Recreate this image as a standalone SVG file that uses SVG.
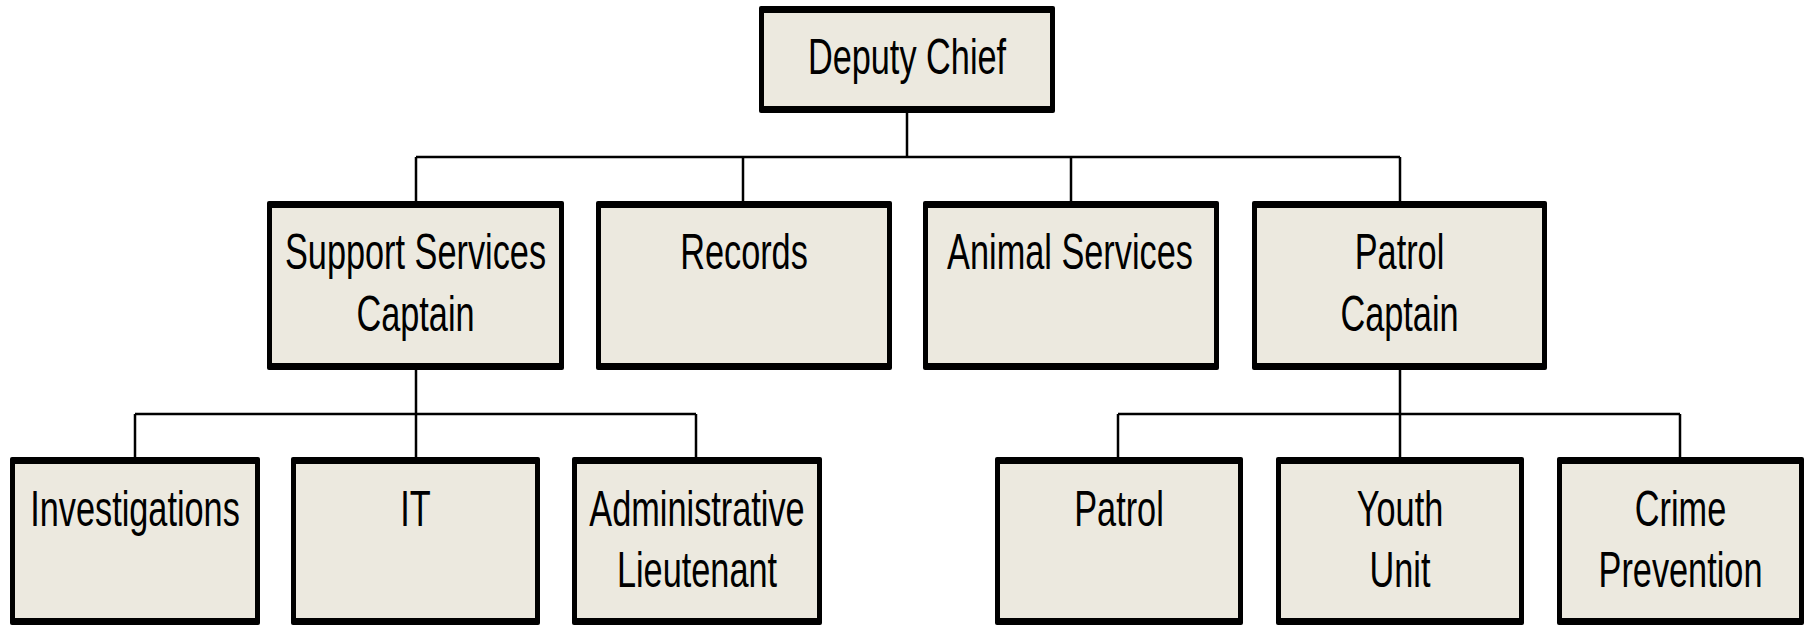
<svg xmlns="http://www.w3.org/2000/svg" width="1812" height="625" viewBox="0 0 1812 625">
<style>
.ob{fill:#000}
.ib{fill:#ECE9DF}
.t{font-family:"Liberation Sans",Arial,sans-serif;font-size:50px;fill:#000;text-anchor:middle}
.c{stroke:#000;stroke-width:2.5;fill:none}
</style>
<rect width="1812" height="625" fill="#fff"/>
<g id="connectors">
<path class="c" d="M907,113V157M416,157H1400M416,157V201M743,157V201M1071,157V201M1400,157V201"/>
<path class="c" d="M416,370V457M135,414H696M135,414V457M696,414V457"/>
<path class="c" d="M1400,370V457M1118,414H1680M1118,414V457M1680,414V457"/>
</g>
<g id="deputy-chief">
<rect class="ob" x="759" y="6" width="296" height="107" rx="2"/>
<rect class="ib" x="764" y="13" width="286" height="93"/>
<text class="t" transform="translate(907,74) scale(0.686,1)">Deputy Chief</text>
</g>
<g id="support-services-captain">
<rect class="ob" x="267" y="201" width="297" height="169" rx="2"/>
<rect class="ib" x="272" y="208" width="287" height="155"/>
<text class="t" transform="translate(415.5,269) scale(0.686,1)">Support Services</text>
<text class="t" transform="translate(415.5,331) scale(0.686,1)">Captain</text>
</g>
<g id="records">
<rect class="ob" x="596" y="201" width="296" height="169" rx="2"/>
<rect class="ib" x="601" y="208" width="286" height="155"/>
<text class="t" transform="translate(744,269) scale(0.686,1)">Records</text>
</g>
<g id="animal-services">
<rect class="ob" x="923" y="201" width="296" height="169" rx="2"/>
<rect class="ib" x="928" y="208" width="286" height="155"/>
<text class="t" transform="translate(1070,269) scale(0.686,1)">Animal Services</text>
</g>
<g id="patrol-captain">
<rect class="ob" x="1252" y="201" width="295" height="169" rx="2"/>
<rect class="ib" x="1257" y="208" width="285" height="155"/>
<text class="t" transform="translate(1399.5,269) scale(0.686,1)">Patrol</text>
<text class="t" transform="translate(1399.5,331) scale(0.686,1)">Captain</text>
</g>
<g id="investigations">
<rect class="ob" x="10" y="457" width="250" height="168" rx="2"/>
<rect class="ib" x="15" y="464" width="240" height="154"/>
<text class="t" transform="translate(135,526) scale(0.686,1)">Investigations</text>
</g>
<g id="it">
<rect class="ob" x="291" y="457" width="249" height="168" rx="2"/>
<rect class="ib" x="296" y="464" width="239" height="154"/>
<text class="t" transform="translate(415.5,526) scale(0.686,1)">IT</text>
</g>
<g id="administrative-lieutenant">
<rect class="ob" x="572" y="457" width="250" height="168" rx="2"/>
<rect class="ib" x="577" y="464" width="240" height="154"/>
<text class="t" transform="translate(697,526) scale(0.686,1)">Administrative</text>
<text class="t" transform="translate(697,587) scale(0.686,1)">Lieutenant</text>
</g>
<g id="patrol">
<rect class="ob" x="995" y="457" width="248" height="168" rx="2"/>
<rect class="ib" x="1000" y="464" width="238" height="154"/>
<text class="t" transform="translate(1119,526) scale(0.686,1)">Patrol</text>
</g>
<g id="youth-unit">
<rect class="ob" x="1276" y="457" width="248" height="168" rx="2"/>
<rect class="ib" x="1281" y="464" width="238" height="154"/>
<text class="t" transform="translate(1400,526) scale(0.686,1)">Youth</text>
<text class="t" transform="translate(1400,587) scale(0.686,1)">Unit</text>
</g>
<g id="crime-prevention">
<rect class="ob" x="1557" y="457" width="247" height="168" rx="2"/>
<rect class="ib" x="1562" y="464" width="237" height="154"/>
<text class="t" transform="translate(1680.5,526) scale(0.686,1)">Crime</text>
<text class="t" transform="translate(1680.5,587) scale(0.686,1)">Prevention</text>
</g>
</svg>
